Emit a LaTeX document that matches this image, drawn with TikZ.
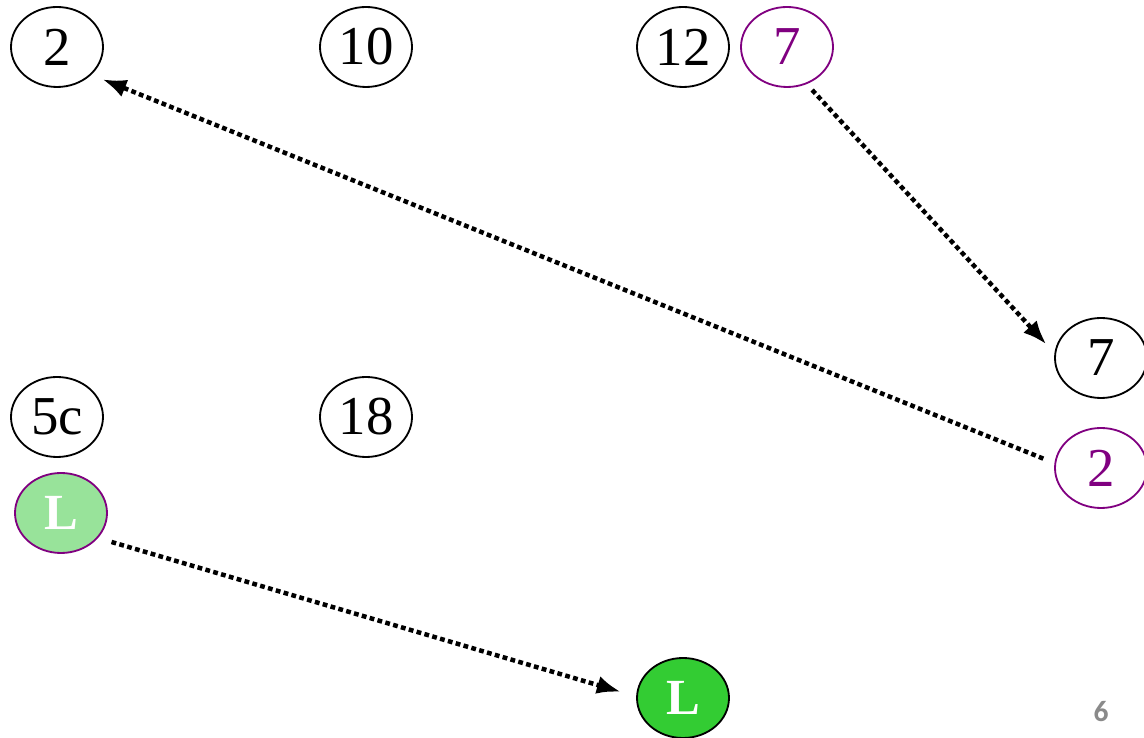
\documentclass[tikz,border=0pt]{standalone}
\usepackage{fontspec}
\setmainfont{Liberation Serif}
\newfontfamily\pagefont{Carlito}
\usetikzlibrary{arrows.meta, shapes.geometric}

\definecolor{heapPurple}{HTML}{800080}
\definecolor{leafLight}{HTML}{98E39A}
\definecolor{leafGreen}{HTML}{33CC33}
\definecolor{pageGray}{HTML}{8A8A8A}

\tikzset{
    numnode/.style={draw=black, line width=1.3pt, ellipse, minimum width=2.3cm, minimum height=2cm,
        inner sep=0pt, font=\fontsize{39}{44}\selectfont},
    movednode/.style={numnode, draw=heapPurple, text=heapPurple},
    leafnode/.style={numnode, text=white, font=\fontsize{36}{40}\selectfont\bfseries},
    hop/.style={line width=3.2pt, dash pattern=on 3.4pt off 2.4pt, -{Latex[length=17pt, width=13pt]}}
}

\begin{document}
\begin{tikzpicture}
        \useasboundingbox (0, 0) rectangle (28.6, 18.45);

        % top row
        \node[numnode] (two) at (1.425, 17.275) {2};
        \node[numnode] (ten) at (9.15, 17.275) {10};
        \node[numnode] (twelve) at (17.075, 17.275) {12};
        \node[movednode] (sevenTop) at (19.675, 17.275) {7};

        % right side
        \node[numnode] (sevenRight) at (27.525, 9.5) {7};
        \node[movednode] (twoRight) at (27.525, 6.75) {2};

        % lower row
        \node[numnode] (fiveC) at (1.425, 8.025) {5c};
        \node[numnode] (eighteen) at (9.15, 8.025) {18};
        \node[leafnode, draw=heapPurple, fill=leafLight] (leafOld) at (1.525, 5.625) {L};
        \node[leafnode, fill=leafGreen] (leafNew) at (17.075, 1.0) {L};

        \node[text=pageGray, font=\pagefont\bfseries\fontsize{21}{24}\selectfont] (page) at (27.525, 0.65) {6};

        % moves
        \draw[hop, shorten <=0.2cm, shorten >=0.3cm] (sevenTop.-62) -- (sevenRight.174);
        \draw[hop, shorten <=0.3cm, shorten >=0.3cm] (twoRight.174) -- (two.-39);
        \draw[hop, shorten <=0.35cm, shorten >=0.4cm] (leafOld.-34) -- (leafNew.178);

\end{tikzpicture}
\end{document}
